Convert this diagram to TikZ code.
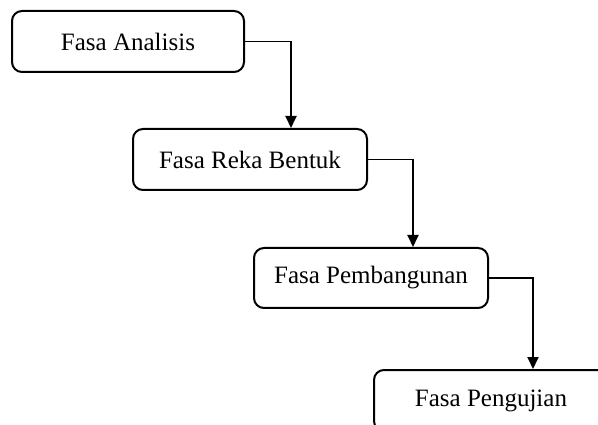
\documentclass[tikz,border=0pt]{standalone}
\usepackage{fontspec}
\setmainfont{Liberation Serif}
\usetikzlibrary{arrows.meta}
\begin{document}
\begin{tikzpicture}[x=1pt,y=-1pt,
  phasebox/.style={draw, line width=2pt, rounded corners=10pt, inner sep=0pt,
    minimum height=61pt, font=\fontsize{25}{30}\selectfont},
  arr/.style={line width=1.9pt, -{Triangle[length=12pt,width=11pt]}}]
\useasboundingbox (0,0) rectangle (598,425);
\clip (0,0) rectangle (598,425);
\node[phasebox, minimum width=232pt] (a) at (128,41.5) {Fasa Analisis};
\node[phasebox, minimum width=234pt] (b) at (250,159.5) {Fasa Reka Bentuk};
\node[phasebox, minimum width=234pt, minimum height=60pt] (c) at (371,278) {Fasa Pembangunan};
\node[phasebox, minimum width=234pt] (d) at (491,400.5) {Fasa Pengujian};
\draw[arr] (a.east) -| ([xshift=41pt]b.north);
\draw[arr] (b.east) -| ([xshift=42pt]c.north);
\draw[arr] (c.east) -| ([xshift=42pt]d.north);
\end{tikzpicture}
\end{document}
